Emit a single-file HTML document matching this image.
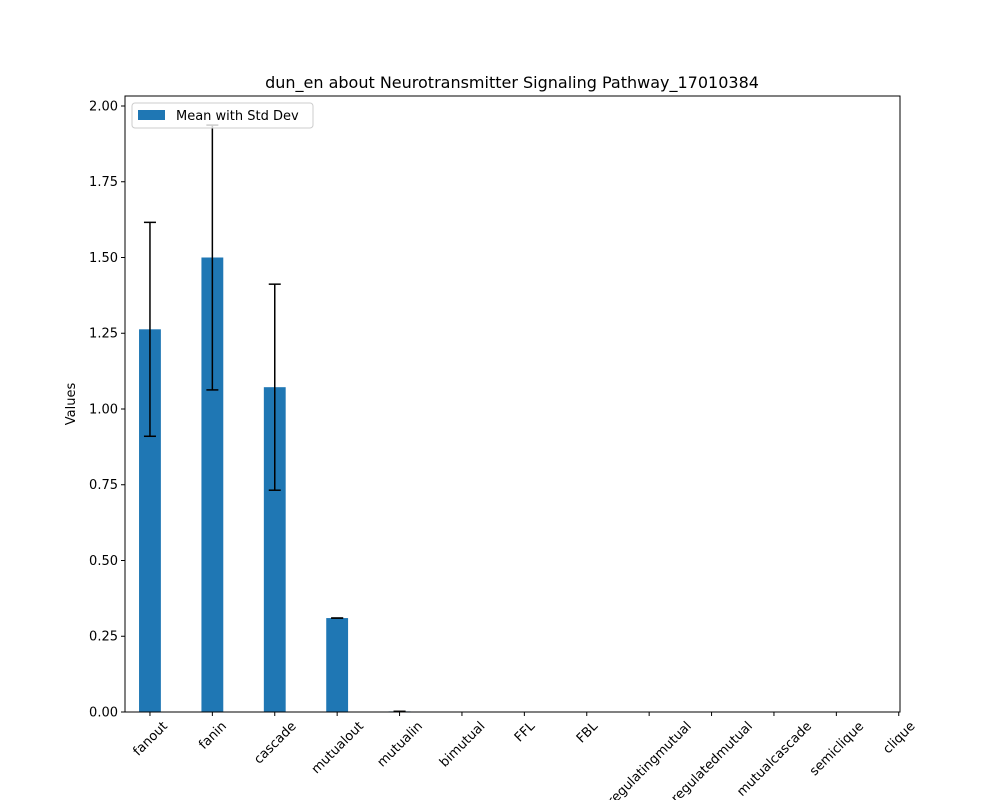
<!DOCTYPE html>
<html><head><meta charset="utf-8"><style>body{margin:0;background:#fff}svg{display:block;font-family:"DejaVu Sans","Liberation Sans",sans-serif}</style></head>
<body>
<svg id="chart" width="1000" height="800"></svg>
<script>
const categories=["fanout","fanin","cascade","mutualout","mutualin","bimutual","FFL","FBL","regulatingmutual","regulatedmutual","mutualcascade","semiclique","clique"];
const means=[1.263,1.5,1.072,0.31,0.002,0,0,0,0,0,0,0,0];
const stds=[0.353,0.437,0.34,0.0,0.0,0,0,0,0,0,0,0,0];
const yTicks=[0,0.25,0.5,0.75,1.0,1.25,1.5,1.75,2.0];
const yTickLabels=["0.00","0.25","0.50","0.75","1.00","1.25","1.50","1.75","2.00"];
const NS="http://www.w3.org/2000/svg";
const svg=document.getElementById('chart');
const L=125,R=900,T=96,B=712,ymax=2.033,xmin=-0.4,xmax=12.02;
const xs=i=>L+(i-xmin)/(xmax-xmin)*(R-L);
const ys=v=>B-v/ymax*(B-T);
const bw=0.35*(R-L)/(xmax-xmin);
function mk(t,a,p){const e=document.createElementNS(NS,t);for(const k in a)e.setAttribute(k,a[k]);(p||svg).appendChild(e);return e;}
categories.forEach((c,i)=>{
  const r=mk('rect',{x:xs(i)-bw/2,y:ys(means[i]),width:bw,height:B-ys(means[i]),fill:'#1f77b4'});
  
  
});
categories.forEach((c,i)=>{
  if(means[i]===0)return;
  const x=xs(i),y1=ys(means[i]-stds[i]),y2=ys(means[i]+stds[i]);
  const g=mk('g',{stroke:'#000','stroke-width':1.5});
  
  
  mk('line',{x1:x,x2:x,y1:y1,y2:y2},g);
  mk('line',{x1:x-6,x2:x+6,y1:y1,y2:y1},g);
  mk('line',{x1:x-6,x2:x+6,y1:y2,y2:y2},g);
});
const frame=mk('rect',{x:L,y:T,width:R-L,height:B-T,fill:'none',stroke:'#000','stroke-width':1});


yTicks.forEach((v,i)=>{
  const y=ys(v);
  mk('line',{x1:L-4,x2:L,y1:y,y2:y,stroke:'#000'});
  const t=mk('text',{x:L-7,y:y+4.5,'text-anchor':'end','font-size':13});
  t.textContent=yTickLabels[i];
  
  
});
categories.forEach((c,i)=>{
  const x=xs(i);
  mk('line',{x1:x,x2:x,y1:B,y2:B+4,stroke:'#000'});
  const t=mk('text',{x:0,y:0,'text-anchor':'middle','font-size':13});
  t.textContent=c;
  
  
  const w=t.getComputedTextLength();
  const h=(w+13)*0.7071;
  const cy=B+7+h/2;
  t.setAttribute('x',x);
  t.setAttribute('y',cy+4.5);
  t.setAttribute('transform',`rotate(-45 ${x} ${cy})`);
});
const yl=mk('text',{x:75,y:404,'text-anchor':'middle','font-size':13,transform:'rotate(-90 75 404)'});
yl.textContent='Values';


const ti=mk('text',{x:512,y:88,'text-anchor':'middle','font-size':16});
ti.textContent='dun_en about Neurotransmitter Signaling Pathway_17010384';


const lg=mk('g',{});


mk('rect',{x:132,y:103,width:181,height:25,rx:3,fill:'rgba(255,255,255,0.8)',stroke:'#ccc'},lg);
mk('rect',{x:138,y:110,width:27,height:10,fill:'#1f77b4'},lg);
const lt=mk('text',{x:176,y:120,'font-size':13},lg);
lt.textContent='Mean with Std Dev';
</script>
</body></html>
